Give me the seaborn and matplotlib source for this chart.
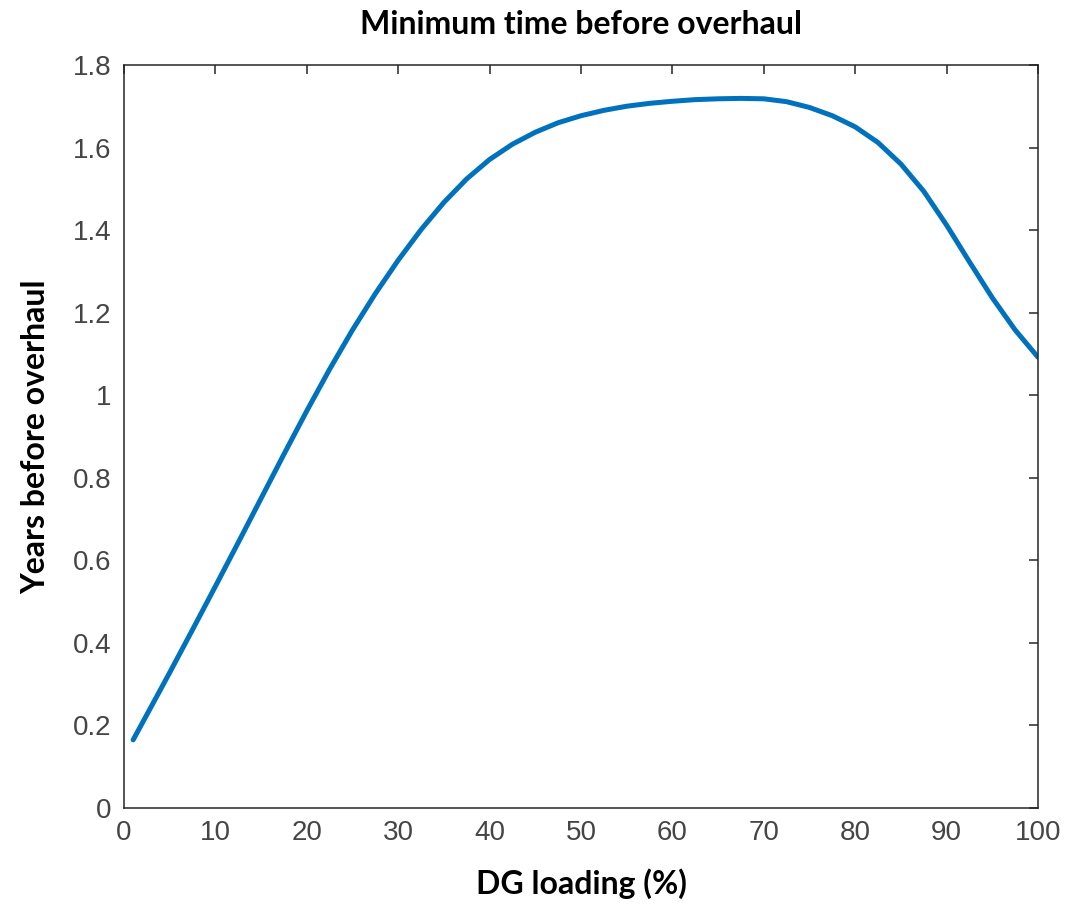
import matplotlib
matplotlib.use("Agg")
import matplotlib.pyplot as plt
import seaborn as sns
import pandas as pd

# DG loading (%) and minimum years before overhaul
loading = [1, 2.5, 5, 7.5, 10, 12.5, 15, 17.5, 20, 22.5, 25, 27.5, 30, 32.5, 35,
           37.5, 40, 42.5, 45, 47.5, 50, 52.5, 55, 57.5, 60, 62.5, 65, 67.5, 70,
           72.5, 75, 77.5, 80, 82.5, 85, 87.5, 90, 92.5, 95, 97.5, 100]
years = [0.165, 0.226, 0.328, 0.432, 0.537, 0.643, 0.750, 0.857, 0.962, 1.063,
         1.158, 1.246, 1.327, 1.401, 1.467, 1.524, 1.571, 1.608, 1.637, 1.660,
         1.677, 1.690, 1.700, 1.707, 1.712, 1.716, 1.718, 1.719, 1.718, 1.711,
         1.697, 1.677, 1.650, 1.612, 1.560, 1.494, 1.412, 1.323, 1.236, 1.158,
         1.092]

x_ticks = [0, 10, 20, 30, 40, 50, 60, 70, 80, 90, 100]
y_ticks = [0, 0.2, 0.4, 0.6, 0.8, 1.0, 1.2, 1.4, 1.6, 1.8]
y_tick_labels = ["0", "0.2", "0.4", "0.6", "0.8", "1", "1.2", "1.4", "1.6", "1.8"]

df = pd.DataFrame({"loading": loading, "years": years})

sns.set_style("white")
plt.rcParams["font.family"] = ["Liberation Sans", "DejaVu Sans"]

fig = plt.figure(figsize=(10.68, 9.11), dpi=100)
ax = fig.add_axes([0.1161, 0.1131, 0.9719 - 0.1161, 0.9287 - 0.1131])

sns.lineplot(data=df, x="loading", y="years", ax=ax, color="#0072BD",
             linewidth=3.6, estimator=None, sort=False)

ax.set_xlim(0, 100)
ax.set_ylim(0, 1.8)
ax.set_xticks(x_ticks)
ax.set_xticklabels([str(t) for t in x_ticks])
ax.set_yticks(y_ticks)
ax.set_yticklabels(y_tick_labels)

tick_color = "#262626"
for side in ["left", "right", "top", "bottom"]:
    ax.spines[side].set_visible(True)
    ax.spines[side].set_color(tick_color)
    ax.spines[side].set_linewidth(1.1)

ax.tick_params(axis="both", which="major", direction="in", length=6.5,
               width=1.1, color=tick_color, labelcolor="#454545",
               labelsize=20, top=True, right=True, pad=9)

label_font = dict(family=["Lato", "DejaVu Sans"], weight="bold", color="black")
ax.set_title("Minimum time before overhaul", fontsize=23, pad=22, **label_font)
ax.set_xlabel("DG loading (%)", fontsize=23, labelpad=16, **label_font)
ax.set_ylabel("Years before overhaul", fontsize=23, labelpad=16, **label_font)

fig.savefig("out.png", dpi=100, facecolor="white")
